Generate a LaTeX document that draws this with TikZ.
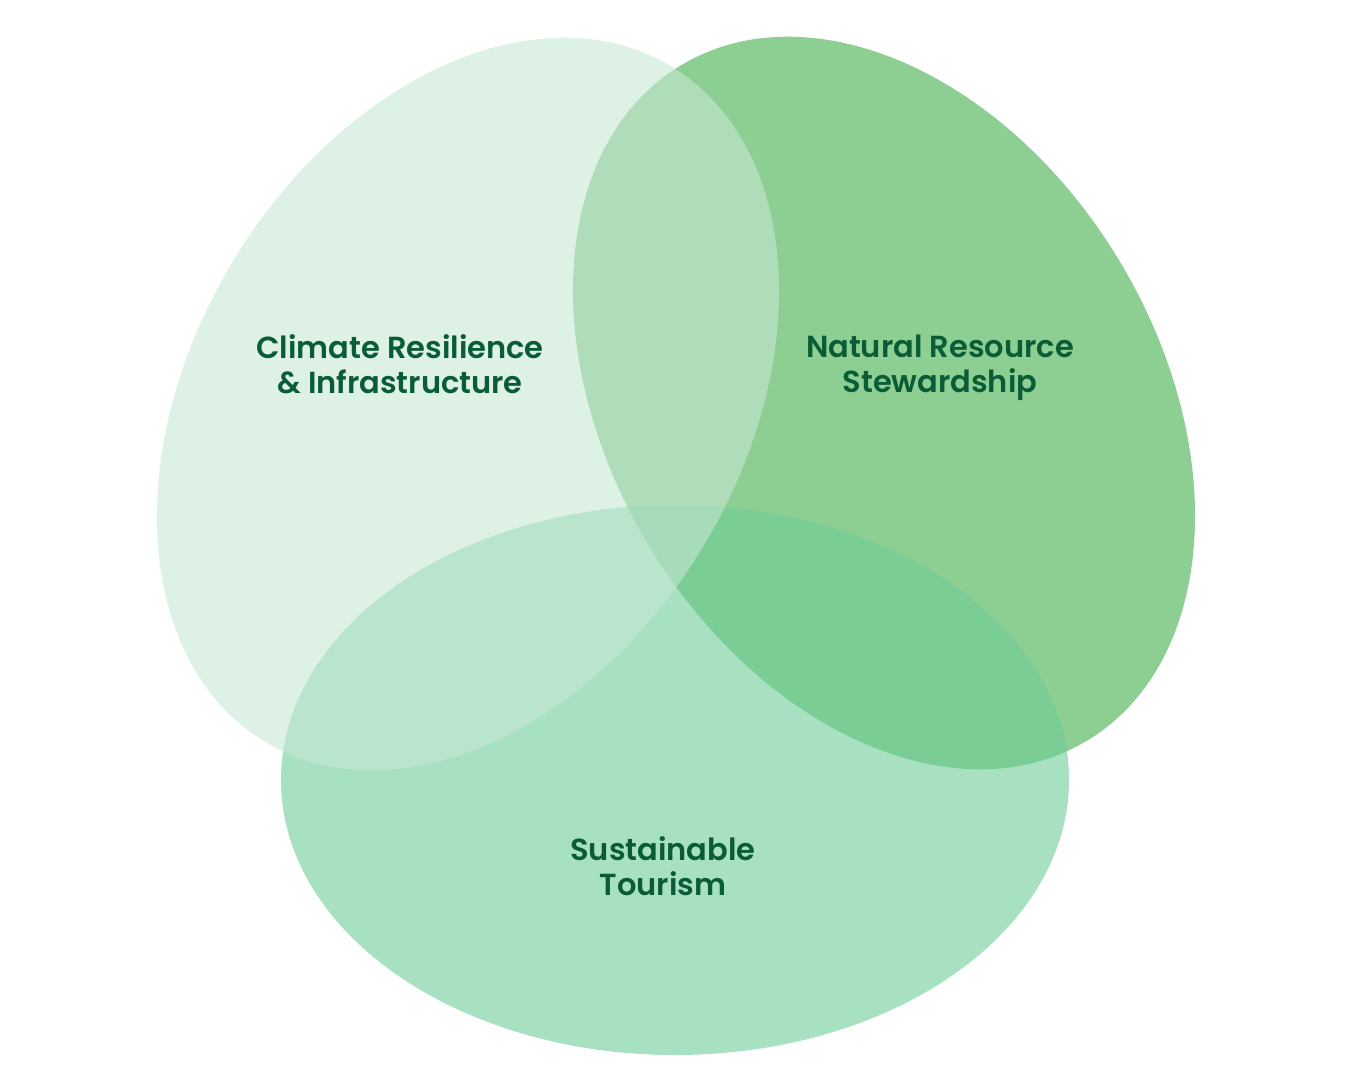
\documentclass[tikz,border=0pt]{standalone}
\usepackage{fontspec}
\setmainfont{Poppins}[BoldFont={Poppins SemiBold}]
\usepackage{xcolor}
\usepackage{tikz}
\usetikzlibrary{shapes.geometric, positioning}

\definecolor{climategreen}{RGB}{198,232,212}
\definecolor{naturegreen}{RGB}{65,173,73}
\definecolor{tourgreen}{RGB}{109,205,151}
\definecolor{labelgreen}{RGB}{10,92,55}

\begin{document}
\begin{tikzpicture}[x=1pt, y=-1pt,
        blob/.style={ellipse, minimum width=788pt, minimum height=550pt, inner sep=0pt, fill opacity=0.6},
        tag/.style={text=labelgreen, font=\bfseries\fontsize{30.5}{35}\selectfont, align=center}]
        \useasboundingbox (0,0) rectangle (1350,1080);

        \node[blob, fill=naturegreen, rotate=-59] (natural) at (884,403) {};
        \node[blob, fill=tourgreen] (tourism) at (675,780) {};
        \node[blob, fill=climategreen, rotate=59] (climate) at (468,404) {};

        \node[tag] (climatetext) at (400,364) {Climate Resilience\\ \& Infrastructure};
        \node[tag] (naturaltext) at (940,368) {Natural Resource\\ Stewardship};
        \node[tag] (tourismtext) at (663,866) {Sustainable\\ Tourism};

    \end{tikzpicture}
\end{document}
